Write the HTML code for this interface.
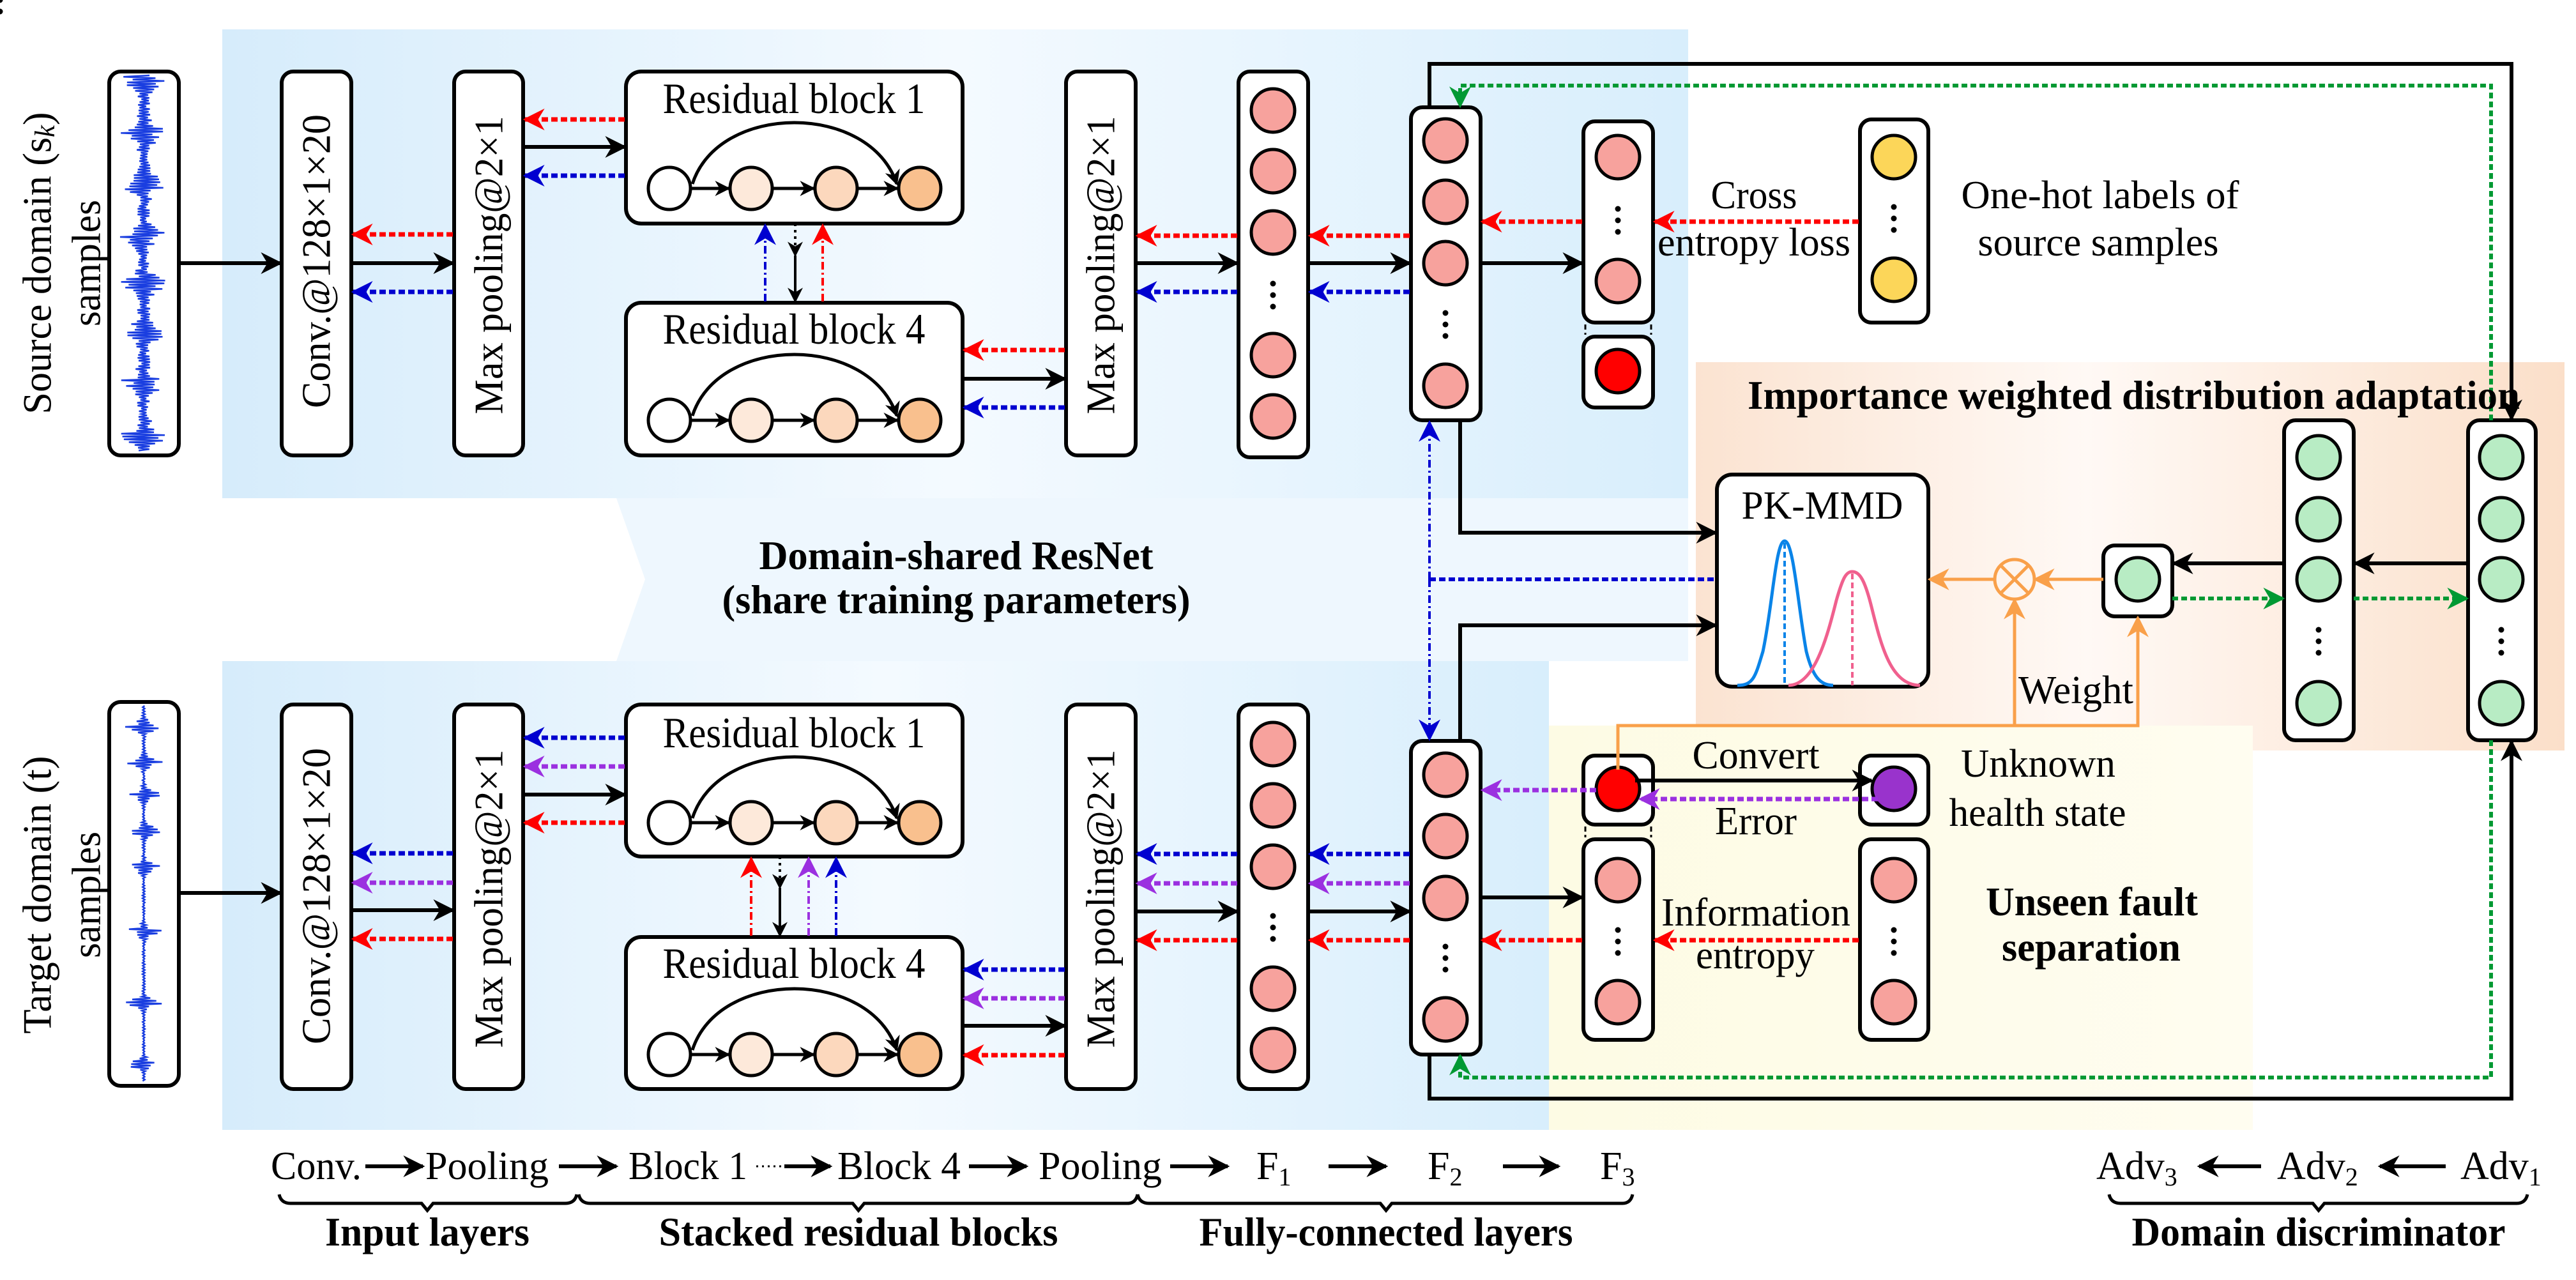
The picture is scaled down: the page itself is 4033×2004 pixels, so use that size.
<!DOCTYPE html>
<html><head><meta charset="utf-8"><style>
html,body{margin:0;padding:0;background:#fff;width:4033px;height:2004px;overflow:hidden}
svg{display:block}
text{font-family:"Liberation Serif",serif;fill:#000}
.b{font-weight:bold}
</style></head><body>
<svg id="s" width="4033" height="2004" viewBox="0 0 4033 2004" xmlns="http://www.w3.org/2000/svg">
<defs>
<linearGradient id="gb" x1="0" y1="0" x2="1" y2="0"><stop offset="0" stop-color="#d6ecfb"/><stop offset="0.5" stop-color="#f4faff"/><stop offset="1" stop-color="#d8eefc"/></linearGradient>
<linearGradient id="go" x1="0" y1="0" x2="1" y2="0"><stop offset="0" stop-color="#fbe3d1"/><stop offset="0.45" stop-color="#fff9f5"/><stop offset="1" stop-color="#fbdfc9"/></linearGradient>
<linearGradient id="gy" x1="0" y1="0" x2="1" y2="0"><stop offset="0" stop-color="#fdfbe4"/><stop offset="1" stop-color="#fffdf0"/></linearGradient>
<marker id="ak" viewBox="0 0 10 10" refX="9" refY="5" markerWidth="34" markerHeight="34" markerUnits="userSpaceOnUse" orient="auto"><path d="M0,0 L10,5 L0,10 L3,5z" fill="#000"/></marker>
<marker id="ar" viewBox="0 0 10 10" refX="9" refY="5" markerWidth="34" markerHeight="34" markerUnits="userSpaceOnUse" orient="auto"><path d="M0,0 L10,5 L0,10 L3,5z" fill="#f00"/></marker>
<marker id="abl" viewBox="0 0 10 10" refX="9" refY="5" markerWidth="34" markerHeight="34" markerUnits="userSpaceOnUse" orient="auto"><path d="M0,0 L10,5 L0,10 L3,5z" fill="#0000d0"/></marker>
<marker id="ap" viewBox="0 0 10 10" refX="9" refY="5" markerWidth="34" markerHeight="34" markerUnits="userSpaceOnUse" orient="auto"><path d="M0,0 L10,5 L0,10 L3,5z" fill="#9b30e0"/></marker>
<marker id="ag" viewBox="0 0 10 10" refX="9" refY="5" markerWidth="34" markerHeight="34" markerUnits="userSpaceOnUse" orient="auto"><path d="M0,0 L10,5 L0,10 L3,5z" fill="#009933"/></marker>
<marker id="ao" viewBox="0 0 10 10" refX="9" refY="5" markerWidth="34" markerHeight="34" markerUnits="userSpaceOnUse" orient="auto"><path d="M0,0 L10,5 L0,10 L3,5z" fill="#f9a04a"/></marker>
<marker id="aks" viewBox="0 0 10 10" refX="9" refY="5" markerWidth="24" markerHeight="24" markerUnits="userSpaceOnUse" orient="auto"><path d="M0,0 L10,5 L0,10 L3,5z" fill="#000"/></marker>
</defs>

<!-- panels -->
<rect x="348" y="46" width="2295" height="734" fill="url(#gb)"/>
<path d="M965,780 L2643,780 L2643,1035 L965,1035 L1010,907 Z" fill="#eef7fe"/>
<rect x="348" y="1035" width="2077" height="734" fill="url(#gb)"/>
<rect x="2655" y="567" width="1360" height="608" fill="url(#go)"/>
<rect x="2425" y="1136" width="1102" height="633" fill="url(#gy)"/>

<g fill="none" stroke="#000" stroke-width="6">
<!-- top row boxes -->
<rect x="171" y="112" width="109" height="601" rx="18" fill="#fff"/>
<rect x="441" y="112" width="109" height="601" rx="18" fill="#fff"/>
<rect x="711" y="112" width="108" height="601" rx="18" fill="#fff"/>
<rect x="980" y="112" width="527" height="238" rx="24" fill="#fff"/>
<rect x="980" y="474" width="527" height="239" rx="24" fill="#fff"/>
<rect x="1669" y="112" width="109" height="601" rx="18" fill="#fff"/>
<rect x="1939" y="112" width="109" height="604" rx="18" fill="#fff"/>
<rect x="2209" y="168" width="109" height="490" rx="18" fill="#fff"/>
<rect x="2479" y="190" width="109" height="315" rx="18" fill="#fff"/>
<rect x="2479" y="527" width="109" height="111" rx="18" fill="#fff"/>
<rect x="2912" y="187" width="107" height="318" rx="18" fill="#fff"/>
<!-- bottom row boxes -->
<rect x="171" y="1099" width="109" height="601" rx="18" fill="#fff"/>
<rect x="441" y="1103" width="109" height="602" rx="18" fill="#fff"/>
<rect x="711" y="1103" width="108" height="602" rx="18" fill="#fff"/>
<rect x="980" y="1103" width="527" height="238" rx="24" fill="#fff"/>
<rect x="980" y="1467" width="527" height="238" rx="24" fill="#fff"/>
<rect x="1669" y="1103" width="109" height="602" rx="18" fill="#fff"/>
<rect x="1939" y="1103" width="109" height="602" rx="18" fill="#fff"/>
<rect x="2209" y="1160" width="109" height="491" rx="18" fill="#fff"/>
<rect x="2479" y="1183" width="109" height="108" rx="18" fill="#fff"/>
<rect x="2479" y="1314" width="109" height="314" rx="18" fill="#fff"/>
<rect x="2912" y="1183" width="107" height="108" rx="18" fill="#fff"/>
<rect x="2912" y="1314" width="107" height="314" rx="18" fill="#fff"/>
<!-- adaptation -->
<rect x="2688" y="743" width="331" height="332" rx="24" fill="#fff"/>
<rect x="3293" y="854" width="108" height="111" rx="18" fill="#fff"/>
<rect x="3576" y="658" width="109" height="501" rx="18" fill="#fff"/>
<rect x="3864" y="658" width="106" height="501" rx="18" fill="#fff"/>
</g>
<g stroke="#000" stroke-width="3" stroke-dasharray="8 5">
<line x1="2482" y1="508" x2="2482" y2="524"/><line x1="2585" y1="508" x2="2585" y2="524"/>
<line x1="2482" y1="1294" x2="2482" y2="1311"/><line x1="2585" y1="1294" x2="2585" y2="1311"/>
</g>

<!-- residual block internals -->
<g id="rb" stroke="#000" stroke-width="5">
<circle cx="1048" cy="295" r="33" fill="#fff"/>
<circle cx="1176" cy="295" r="33" fill="#fde9da"/>
<circle cx="1309" cy="295" r="33" fill="#fcd8bd"/>
<circle cx="1440" cy="295" r="33" fill="#f9c08e"/>
<path d="M1084,288 C1125,160 1362,160 1404,288" fill="none" marker-end="url(#aks)"/>
<line x1="1081" y1="295" x2="1141" y2="295" marker-end="url(#aks)"/>
<line x1="1209" y1="295" x2="1274" y2="295" marker-end="url(#aks)"/>
<line x1="1342" y1="295" x2="1405" y2="295" marker-end="url(#aks)"/>
</g>
<use href="#rb" transform="translate(0,363)"/>
<use href="#rb" transform="translate(0,993)"/>
<use href="#rb" transform="translate(0,1356)"/>

<g font-size="68">
<text x="1243" y="177" text-anchor="middle" textLength="411" lengthAdjust="spacingAndGlyphs">Residual block 1</text>
<text x="1243" y="538" text-anchor="middle" textLength="411" lengthAdjust="spacingAndGlyphs">Residual block 4</text>
<text x="1243" y="1170" text-anchor="middle" textLength="411" lengthAdjust="spacingAndGlyphs">Residual block 1</text>
<text x="1243" y="1531" text-anchor="middle" textLength="411" lengthAdjust="spacingAndGlyphs">Residual block 4</text>
</g>

<!-- vertical labels -->
<g font-size="64">
<text transform="translate(495,409) rotate(-90)" text-anchor="middle" dominant-baseline="central" textLength="460" lengthAdjust="spacingAndGlyphs">Conv.@128×1×20</text>
<text transform="translate(765,415) rotate(-90)" text-anchor="middle" dominant-baseline="central" textLength="467" lengthAdjust="spacingAndGlyphs">Max pooling@2×1</text>
<text transform="translate(1723,415) rotate(-90)" text-anchor="middle" dominant-baseline="central" textLength="467" lengthAdjust="spacingAndGlyphs">Max pooling@2×1</text>
<text transform="translate(495,1403) rotate(-90)" text-anchor="middle" dominant-baseline="central" textLength="464" lengthAdjust="spacingAndGlyphs">Conv.@128×1×20</text>
<text transform="translate(765,1407) rotate(-90)" text-anchor="middle" dominant-baseline="central" textLength="467" lengthAdjust="spacingAndGlyphs">Max pooling@2×1</text>
<text transform="translate(1723,1407) rotate(-90)" text-anchor="middle" dominant-baseline="central" textLength="467" lengthAdjust="spacingAndGlyphs">Max pooling@2×1</text>
<text transform="translate(58,412) rotate(-90)" text-anchor="middle" dominant-baseline="central" textLength="473" lengthAdjust="spacingAndGlyphs">Source domain (s<tspan font-size="44" font-style="italic" dy="12">k</tspan><tspan dy="-12">)</tspan></text>
<text transform="translate(135,412) rotate(-90)" text-anchor="middle" dominant-baseline="central" textLength="198" lengthAdjust="spacingAndGlyphs">samples</text>
<text transform="translate(58,1401) rotate(-90)" text-anchor="middle" dominant-baseline="central" textLength="435" lengthAdjust="spacingAndGlyphs">Target domain (t)</text>
<text transform="translate(135,1401) rotate(-90)" text-anchor="middle" dominant-baseline="central" textLength="198" lengthAdjust="spacingAndGlyphs">samples</text>
</g>

<!-- node circles -->
<g stroke="#000" stroke-width="5" fill="#f7a29d">
<circle cx="1993" cy="173" r="34"/><circle cx="1993" cy="268" r="34"/><circle cx="1993" cy="364" r="34"/><circle cx="1993" cy="556" r="34"/><circle cx="1993" cy="652" r="34"/>
<circle cx="2263" cy="220" r="34"/><circle cx="2263" cy="316" r="34"/><circle cx="2263" cy="412" r="34"/><circle cx="2263" cy="604" r="34"/>
<circle cx="2533" cy="246" r="34"/><circle cx="2533" cy="440" r="34"/>
<circle cx="2533" cy="581" r="34" fill="#ff0000"/>
<circle cx="2965" cy="246" r="34" fill="#fcd659"/><circle cx="2965" cy="438" r="34" fill="#fcd659"/>
<circle cx="1993" cy="1165" r="34"/><circle cx="1993" cy="1261" r="34"/><circle cx="1993" cy="1357" r="34"/><circle cx="1993" cy="1548" r="34"/><circle cx="1993" cy="1644" r="34"/>
<circle cx="2263" cy="1213" r="34"/><circle cx="2263" cy="1309" r="34"/><circle cx="2263" cy="1406" r="34"/><circle cx="2263" cy="1596" r="34"/>
<circle cx="2533" cy="1378" r="34"/><circle cx="2533" cy="1569" r="34"/>
<circle cx="2965" cy="1378" r="34"/><circle cx="2965" cy="1569" r="34"/>
<circle cx="2533" cy="1235" r="34" fill="#ff0000"/>
<circle cx="2965" cy="1235" r="34" fill="#9933cc"/>
<circle cx="3347" cy="907" r="34" fill="#b8ecc4"/>
<circle cx="3630" cy="716" r="34" fill="#b8ecc4"/><circle cx="3630" cy="813" r="34" fill="#b8ecc4"/><circle cx="3630" cy="907" r="34" fill="#b8ecc4"/><circle cx="3630" cy="1101" r="34" fill="#b8ecc4"/>
<circle cx="3916" cy="716" r="34" fill="#b8ecc4"/><circle cx="3916" cy="813" r="34" fill="#b8ecc4"/><circle cx="3916" cy="907" r="34" fill="#b8ecc4"/><circle cx="3916" cy="1101" r="34" fill="#b8ecc4"/>
</g>
<!-- vertical dots -->
<g fill="#000">
<g id="dots"><circle cx="0" cy="-18" r="4.5"/><circle cx="0" cy="0" r="4.5"/><circle cx="0" cy="18" r="4.5"/></g>
<use href="#dots" x="1993" y="462"/><use href="#dots" x="2263" y="508"/><use href="#dots" x="2533" y="345"/><use href="#dots" x="2965" y="342"/>
<use href="#dots" x="1993" y="1452"/><use href="#dots" x="2263" y="1500"/><use href="#dots" x="2533" y="1474"/><use href="#dots" x="2965" y="1474"/>
<use href="#dots" x="3630" y="1004"/><use href="#dots" x="3916" y="1004"/>
</g>

<!-- waveforms -->
<path id="w1" fill="none" stroke="#1a3ee0" stroke-width="2.5"/>
<path id="w2" fill="none" stroke="#1a3ee0" stroke-width="2.5"/>

<!-- black arrows -->
<g stroke="#000" stroke-width="6" fill="none" marker-end="url(#ak)">
<line x1="280" y1="412" x2="439" y2="412"/>
<line x1="550" y1="412" x2="709" y2="412"/>
<line x1="819" y1="230" x2="978" y2="230"/>
<line x1="1507" y1="593" x2="1667" y2="593"/>
<line x1="1778" y1="412" x2="1937" y2="412"/>
<line x1="2048" y1="412" x2="2207" y2="412"/>
<line x1="2318" y1="412" x2="2477" y2="412"/>
<line x1="280" y1="1398" x2="439" y2="1398"/>
<line x1="550" y1="1425" x2="709" y2="1425"/>
<line x1="819" y1="1244" x2="978" y2="1244"/>
<line x1="1507" y1="1606" x2="1667" y2="1606"/>
<line x1="1778" y1="1427" x2="1937" y2="1427"/>
<line x1="2048" y1="1427" x2="2207" y2="1427"/>
<line x1="2318" y1="1405" x2="2477" y2="1405"/>
<line x1="2560" y1="1222" x2="2930" y2="1222"/>
<polyline points="2238,168 2238,100 3932,100 3932,656"/>
<polyline points="2286,658 2286,834 2686,834"/>
<polyline points="2286,1159 2286,979 2686,979"/>
<polyline points="2238,1651 2238,1720 3932,1720 3932,1161"/>
<line x1="3864" y1="882" x2="3687" y2="882"/>
<line x1="3576" y1="882" x2="3403" y2="882"/>
</g>
<g stroke="#000" stroke-width="4" fill="none" marker-end="url(#aks)">
<path d="M1245,350 L1245,400" stroke-dasharray="4 6"/><line x1="1245" y1="400" x2="1245" y2="472"/>
<path d="M1221,1341 L1221,1390" stroke-dasharray="4 6"/><line x1="1221" y1="1390" x2="1221" y2="1465"/>
</g>

<!-- red dashed -->
<g stroke="#f00" stroke-width="7" stroke-dasharray="10 5" fill="none" marker-end="url(#ar)">
<line x1="709" y1="367" x2="553" y2="367"/>
<line x1="978" y1="187" x2="822" y2="187"/>
<line x1="1667" y1="548" x2="1510" y2="548"/>
<line x1="1937" y1="369" x2="1781" y2="369"/>
<line x1="2207" y1="369" x2="2051" y2="369"/>
<line x1="2477" y1="347" x2="2321" y2="347"/>
<line x1="2910" y1="347" x2="2591" y2="347"/>
<line x1="709" y1="1470" x2="553" y2="1470"/>
<line x1="978" y1="1288" x2="822" y2="1288"/>
<line x1="1667" y1="1652" x2="1510" y2="1652"/>
<line x1="1937" y1="1472" x2="1781" y2="1472"/>
<line x1="2207" y1="1472" x2="2051" y2="1472"/>
<line x1="2477" y1="1472" x2="2321" y2="1472"/>
<line x1="2910" y1="1472" x2="2591" y2="1472"/>
</g>
<g stroke="#f00" stroke-width="4" stroke-dasharray="12 5 3 5" fill="none" marker-end="url(#ar)">
<line x1="1288" y1="472" x2="1288" y2="353"/>
<line x1="1176" y1="1465" x2="1176" y2="1344"/>
</g>
<!-- blue dashed -->
<g stroke="#0000d0" stroke-width="7" stroke-dasharray="10 5" fill="none" marker-end="url(#abl)">
<line x1="709" y1="457" x2="553" y2="457"/>
<line x1="978" y1="275" x2="822" y2="275"/>
<line x1="1667" y1="638" x2="1510" y2="638"/>
<line x1="1937" y1="457" x2="1781" y2="457"/>
<line x1="2207" y1="457" x2="2051" y2="457"/>
<line x1="709" y1="1336" x2="553" y2="1336"/>
<line x1="978" y1="1155" x2="822" y2="1155"/>
<line x1="1667" y1="1518" x2="1510" y2="1518"/>
<line x1="1937" y1="1337" x2="1781" y2="1337"/>
<line x1="2207" y1="1337" x2="2051" y2="1337"/>
</g>
<g stroke="#0000d0" stroke-width="4" stroke-dasharray="12 5 3 5" fill="none">
<line x1="1198" y1="472" x2="1198" y2="353" marker-end="url(#abl)"/>
<line x1="1309" y1="1465" x2="1309" y2="1344" marker-end="url(#abl)"/>
<line x1="2238" y1="907" x2="2238" y2="661" marker-end="url(#abl)"/>
<line x1="2238" y1="907" x2="2238" y2="1157" marker-end="url(#abl)"/>
</g>
<line x1="2238" y1="907" x2="2686" y2="907" stroke="#0000d0" stroke-width="6" stroke-dasharray="10 5"/>
<!-- purple dashed -->
<g stroke="#9b30e0" stroke-width="7" stroke-dasharray="10 5" fill="none" marker-end="url(#ap)">
<line x1="709" y1="1382" x2="553" y2="1382"/>
<line x1="978" y1="1200" x2="822" y2="1200"/>
<line x1="1667" y1="1563" x2="1510" y2="1563"/>
<line x1="1937" y1="1383" x2="1781" y2="1383"/>
<line x1="2207" y1="1383" x2="2051" y2="1383"/>
<line x1="2499" y1="1237" x2="2321" y2="1237"/>
<line x1="2940" y1="1251" x2="2568" y2="1251"/>
</g>
<line x1="1266" y1="1465" x2="1266" y2="1344" stroke="#9b30e0" stroke-width="4" stroke-dasharray="12 5 3 5" marker-end="url(#ap)"/>
<!-- green dotted -->
<g stroke="#009933" stroke-width="6" stroke-dasharray="9 5" fill="none" marker-end="url(#ag)">
<polyline points="3900,658 3900,134 2286,134 2286,166"/>
<polyline points="3900,1159 3900,1687 2286,1687 2286,1653"/>
<line x1="3401" y1="937" x2="3574" y2="937"/>
<line x1="3685" y1="937" x2="3862" y2="937"/>
</g>
<!-- orange -->
<g stroke="#f9a04a" stroke-width="5" fill="none">
<polyline points="2533,1205 2533,1136 3347,1136 3347,967" marker-end="url(#ao)"/>
<line x1="3154" y1="1136" x2="3154" y2="939" marker-end="url(#ao)"/>
<line x1="3293" y1="907" x2="3186" y2="907" marker-end="url(#ao)"/>
<line x1="3122" y1="907" x2="3021" y2="907" marker-end="url(#ao)"/>
<circle cx="3154" cy="907" r="31"/>
<line x1="3132" y1="885" x2="3176" y2="929"/><line x1="3176" y1="885" x2="3132" y2="929"/>
</g>
<!-- gaussians -->
<path d="M2720,1073 C2745,1073 2748,1060 2760,1020 C2775,950 2780,847 2794,847 C2808,847 2815,950 2828,1020 C2838,1060 2850,1073 2870,1073" fill="none" stroke="#0a84e8" stroke-width="5"/>
<line x1="2794" y1="850" x2="2794" y2="1073" stroke="#0a84e8" stroke-width="4" stroke-dasharray="9 5"/>
<path d="M2800,1073 C2840,1073 2860,1000 2875,940 C2885,905 2890,895 2900,895 C2912,895 2920,910 2930,950 C2945,1010 2960,1073 3006,1073" fill="none" stroke="#f0608e" stroke-width="5"/>
<line x1="2900" y1="898" x2="2900" y2="1073" stroke="#f0608e" stroke-width="4" stroke-dasharray="9 5"/>

<!-- labels -->
<g font-size="62">
<text x="2746" y="326" text-anchor="middle" textLength="135" lengthAdjust="spacingAndGlyphs">Cross</text>
<text x="2746" y="400" text-anchor="middle" textLength="302" lengthAdjust="spacingAndGlyphs">entropy loss</text>
<text x="3288" y="326" text-anchor="middle" textLength="435" lengthAdjust="spacingAndGlyphs">One-hot labels of</text>
<text x="3285" y="400" text-anchor="middle" textLength="377" lengthAdjust="spacingAndGlyphs">source samples</text>
<text x="2853" y="812" text-anchor="middle" textLength="253" lengthAdjust="spacingAndGlyphs">PK-MMD</text>
<text x="3250" y="1101" text-anchor="middle" textLength="180" lengthAdjust="spacingAndGlyphs">Weight</text>
<text x="2749" y="1203" text-anchor="middle" textLength="199" lengthAdjust="spacingAndGlyphs">Convert</text>
<text x="2749" y="1306" text-anchor="middle" textLength="128" lengthAdjust="spacingAndGlyphs">Error</text>
<text x="3191" y="1216" text-anchor="middle" textLength="242" lengthAdjust="spacingAndGlyphs">Unknown</text>
<text x="3190" y="1293" text-anchor="middle" textLength="277" lengthAdjust="spacingAndGlyphs">health state</text>
<text x="2749" y="1449" text-anchor="middle" textLength="296" lengthAdjust="spacingAndGlyphs">Information</text>
<text x="2748" y="1516" text-anchor="middle" textLength="186" lengthAdjust="spacingAndGlyphs">entropy</text>
</g>
<g font-size="64" class="b">
<text x="2736" y="640" textLength="1209" lengthAdjust="spacingAndGlyphs" font-weight="bold">Importance weighted distribution adaptation</text>
<text x="3275" y="1433" text-anchor="middle" textLength="332" lengthAdjust="spacingAndGlyphs" font-weight="bold">Unseen fault</text>
<text x="3274" y="1504" text-anchor="middle" textLength="280" lengthAdjust="spacingAndGlyphs" font-weight="bold">separation</text>
<text x="1497" y="891" text-anchor="middle" textLength="617" lengthAdjust="spacingAndGlyphs" font-weight="bold">Domain-shared ResNet</text>
<text x="1497" y="960" text-anchor="middle" textLength="733" lengthAdjust="spacingAndGlyphs" font-weight="bold">(share training parameters)</text>
</g>

<!-- bottom legend -->
<g font-size="62">
<text x="424" y="1846" textLength="142" lengthAdjust="spacingAndGlyphs">Conv.</text>
<text x="666" y="1846" textLength="193" lengthAdjust="spacingAndGlyphs">Pooling</text>
<text x="984" y="1846" textLength="186" lengthAdjust="spacingAndGlyphs">Block 1</text>
<text x="1311" y="1846" textLength="193" lengthAdjust="spacingAndGlyphs">Block 4</text>
<text x="1626" y="1846" textLength="193" lengthAdjust="spacingAndGlyphs">Pooling</text>
<text x="1967" y="1846">F<tspan font-size="40" dy="10">1</tspan></text>
<text x="2235" y="1846">F<tspan font-size="40" dy="10">2</tspan></text>
<text x="2505" y="1846">F<tspan font-size="40" dy="10">3</tspan></text>
<text x="3282" y="1846">Adv<tspan font-size="40" dy="10">3</tspan></text>
<text x="3565" y="1846">Adv<tspan font-size="40" dy="10">2</tspan></text>
<text x="3852" y="1846">Adv<tspan font-size="40" dy="10">1</tspan></text>
</g>
<g stroke="#000" stroke-width="6" marker-end="url(#ak)">
<line x1="572" y1="1826" x2="662" y2="1826"/>
<line x1="875" y1="1826" x2="965" y2="1826"/>
<line x1="1228" y1="1826" x2="1300" y2="1826"/>
<line x1="1517" y1="1826" x2="1607" y2="1826"/>
<line x1="1832" y1="1826" x2="1922" y2="1826"/>
<line x1="2080" y1="1826" x2="2170" y2="1826"/>
<line x1="2353" y1="1826" x2="2440" y2="1826"/>
<line x1="3540" y1="1826" x2="3443" y2="1826"/>
<line x1="3829" y1="1826" x2="3726" y2="1826"/>
</g>
<line x1="1184" y1="1826" x2="1226" y2="1826" stroke="#000" stroke-width="3" stroke-dasharray="3 6"/>
<g stroke="#000" stroke-width="5" fill="none">
<path d="M437,1870 Q440,1884 455,1884 L660,1884 L669,1895 L678,1884 L885,1884 Q900,1884 903,1870"/>
<path d="M906,1870 Q909,1884 924,1884 L1335,1884 L1344,1895 L1353,1884 L1765,1884 Q1778,1884 1781,1870"/>
<path d="M1781,1870 Q1784,1884 1799,1884 L2161,1884 L2170,1895 L2179,1884 L2540,1884 Q2553,1884 2556,1870"/>
<path d="M3302,1870 Q3305,1884 3320,1884 L3621,1884 L3630,1895 L3639,1884 L3940,1884 Q3954,1884 3957,1870"/>
</g>
<g font-size="64" font-weight="bold">
<text x="669" y="1950" text-anchor="middle" textLength="320" lengthAdjust="spacingAndGlyphs" font-weight="bold">Input layers</text>
<text x="1344" y="1950" text-anchor="middle" textLength="625" lengthAdjust="spacingAndGlyphs" font-weight="bold">Stacked residual blocks</text>
<text x="2170" y="1950" text-anchor="middle" textLength="585" lengthAdjust="spacingAndGlyphs" font-weight="bold">Fully-connected layers</text>
<text x="3630" y="1950" text-anchor="middle" textLength="585" lengthAdjust="spacingAndGlyphs" font-weight="bold">Domain discriminator</text>
</g>
</svg>
<script>
(function(){
var seed=7;function r(){seed=(seed*16807)%2147483647;return seed/2147483647;}
function wave(id,y0,y1,cx,bursts,base,amp,w){
 var d="",y=y0,s=1;
 for(;y<=y1;y+=2.2){
  var a=base;
  for(var i=0;i<bursts.length;i++){var dy=(y-bursts[i])/w;a+=amp*Math.exp(-dy*dy)*(dy<0?1:Math.exp(-Math.max(dy,0)*0.6));}
  var x=cx+s*a*(0.3+0.7*r());s=-s;
  d+=(d?"L":"M")+x.toFixed(1)+","+y.toFixed(1);
 }
 document.getElementById(id).setAttribute("d",d);
}
wave("w1",118,706,225,[128,211,291,371,447,524,601,684],10,30,16);
wave("w2",1105,1694,225,[1139,1194,1245,1302,1360,1459,1571,1667],2,30,9);
})();
</script>
</body></html>
